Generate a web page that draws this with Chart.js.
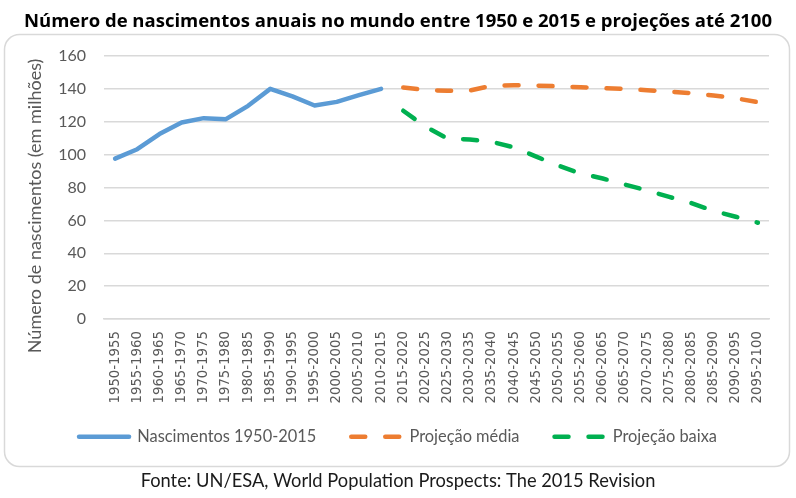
<!DOCTYPE html>
<html>
<head>
<meta charset="utf-8">
<script src="https://cdn.jsdelivr.net/npm/chart.js@4"></script>
<style>
html,body{margin:0;padding:0;background:#fff;}
#wrap{width:796px;height:498px;position:relative;}
</style>
</head>
<body>
<div id="wrap"><canvas id="c" width="796" height="498"></canvas></div>
<script>
const categories = ["1950-1955","1955-1960","1960-1965","1965-1970","1970-1975","1975-1980","1980-1985","1985-1990","1990-1995","1995-2000","2000-2005","2005-2010","2010-2015","2015-2020","2020-2025","2025-2030","2030-2035","2035-2040","2040-2045","2045-2050","2050-2055","2055-2060","2060-2065","2065-2070","2070-2075","2075-2080","2080-2085","2085-2090","2090-2095","2095-2100"];
const births = [97.6,103.3,112.5,119.6,122.2,121.6,129.7,140.0,135.4,129.9,132.1,136.2,140.0];
const medium = [140.8,139.4,138.8,139.0,142.0,142.2,142.0,141.6,141.0,140.4,140.0,139.2,138.4,137.4,136.0,134.3,131.9];
const low = [126.7,117.0,109.8,109.2,107.8,104.4,98.8,93.3,88.5,85.5,81.8,78.2,74.3,70.5,65.8,62.2,58.6];
const yTicks = [0,20,40,60,80,100,120,140,160];
const titleText = "Número de nascimentos anuais no mundo entre 1950 e 2015 e projeções até 2100";
const yTitle = "Número de nascimentos (em milhões)";
const sourceText = "Fonte: UN/ESA, World Population Prospects: The 2015 Revision";
const seriesNames = ["Nascimentos 1950-2015","Projeção média","Projeção baixa"];

const pad = (arr, before, total) => {
  const out = new Array(total).fill(null);
  arr.forEach((v,i)=>{ out[before+i]=v; });
  return out;
};
const N = categories.length;
const bData = pad(births, 0, N);
const mData = pad(medium, 13, N);
const lData = pad(low, 13, N);

const GRAY = '#595959';
const FONT = 'Lato, "Open Sans", sans-serif';

const borderPlugin = {
  id: 'frame',
  beforeDraw(chart){
    const ctx = chart.ctx;
    ctx.save();
    ctx.fillStyle = '#fff';
    ctx.fillRect(0,0,chart.width,chart.height);
    ctx.strokeStyle = '#d9d9d9';
    ctx.lineWidth = 1.5;
    ctx.beginPath();
    ctx.roundRect(4.5, 34.5, 785, 432, 15);
    ctx.stroke();
    ctx.restore();
  }
};

const dashes = [14, 20];
new Chart(document.getElementById('c'), {
  type: 'line',
  data: {
    labels: categories,
    datasets: [
      {label: seriesNames[0], data: bData, borderColor:'#5b9bd5', backgroundColor:'#5b9bd5', borderWidth:4.5, pointRadius:0, borderCapStyle:'round', borderJoinStyle:'round', spanGaps:false},
      {label: seriesNames[1], data: mData, borderColor:'#ed7d31', backgroundColor:'#ed7d31', borderWidth:4.5, pointRadius:0, borderCapStyle:'round', borderJoinStyle:'round', borderDash: dashes},
      {label: seriesNames[2], data: lData, borderColor:'#00b050', backgroundColor:'#00b050', borderWidth:4.5, pointRadius:0, borderCapStyle:'round', borderJoinStyle:'round', borderDash: dashes}
    ]
  },
  options: {
    responsive:false,
    animation:false,
    layout:{padding:{left:24,right:24,top:0,bottom:0}},
    plugins:{
      title:{display:true,text:titleText,color:'#000',font:{family:'"Open Sans", Lato, sans-serif',size:18.5,weight:'bold',lineHeight:1.2},padding:{top:11,bottom:22.8}},
      subtitle:{display:true,position:'bottom',text:sourceText,color:'#1a1a1a',font:{family:FONT,size:18.3,lineHeight:1.2},padding:{top:15,bottom:6}},
      legend:{
        position:'bottom',
        labels:{
          color:GRAY, font:{family:FONT,size:16.4}, padding:35,
          usePointStyle:true, pointStyleWidth:50,
          generateLabels(chart){
            return chart.data.datasets.map((ds,i)=>({
              text: ds.label, fillStyle: ds.borderColor, strokeStyle: ds.borderColor,
              lineWidth: 4.5, lineCap:'round', lineDash: ds.borderDash || [], pointStyle:'line',
              hidden:false, datasetIndex:i, fontColor: GRAY
            }));
          }
        }
      },
      tooltip:{enabled:false}
    },
    scales:{
      x:{
        offset:true,
        grid:{display:false,drawTicks:false},
        border:{display:true,color:'#d9d9d9',width:1.5},
        ticks:{color:GRAY,font:{family:'"DejaVu Sans"',size:13.3},minRotation:90,maxRotation:90,padding:12,autoSkip:false},
        afterFit(s){ s.height = 74.6; s._computeLabelArea = () => undefined; }
      },
      y:{
        min:0,max:160,
        afterBuildTicks(s){ s.ticks = yTicks.map(v=>({value:v})); },
        grid:{color:'#d9d9d9',lineWidth:1.5,drawTicks:false},
        border:{display:false},
        ticks:{color:GRAY,font:{family:FONT,size:16},padding:18},
        title:{display:true,text:yTitle + "        ",color:GRAY,font:{family:FONT,size:18,lineHeight:1.2},padding:0},
        afterFit(s){ s.width = 80; }
      },
      y2:{
        position:'right', display:true,
        grid:{display:false}, border:{display:false}, ticks:{display:false},
        afterFit(s){ s.width = 3; }
      }
    }
  },
  plugins:[borderPlugin]
});
</script>
</body>
</html>
